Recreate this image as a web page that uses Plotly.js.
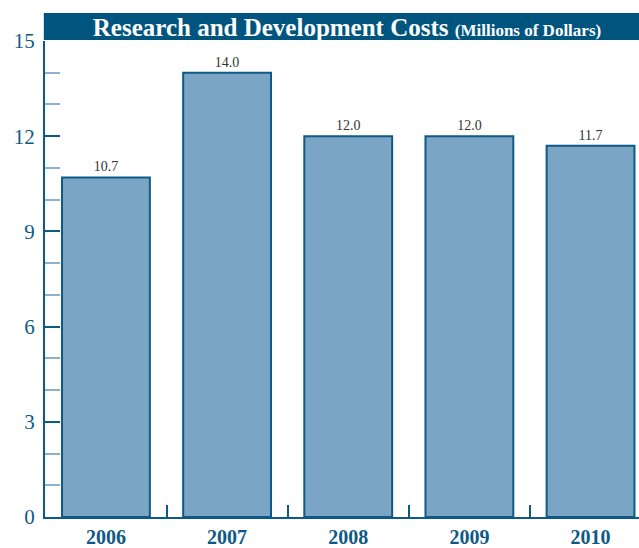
<!DOCTYPE html>
<html>
<head>
<meta charset="utf-8">
<script src="https://cdn.plot.ly/plotly-3.0.1.min.js"></script>
<style>
  html, body { margin: 0; padding: 0; background: #fff; }
  #plot { width: 639px; height: 548px; }
</style>
</head>
<body>
<div id="plot"></div>
<script>
// data
var years = ["2006", "2007", "2008", "2009", "2010"];
var costs = [10.7, 14.0, 12.0, 12.0, 11.7];
var yTicks = [0, 3, 6, 9, 12, 15];

var dark = "#0f5a85";
var serif = "Liberation Serif, Times New Roman, serif";

var bars = {
    type: 'bar',
    x: years,
    y: costs,
    marker: {
        color: '#7ba5c5',
        line: { color: dark, width: 2 }
    },
    text: costs.map(function (v) { return v.toFixed(1); }),
    textposition: 'outside',
    textfont: { family: serif, size: 14, color: '#333333' },
    cliponaxis: false,
    hoverinfo: 'none'
};

var layout = {
    width: 639,
    height: 548,
    margin: { l: 45, r: 0, t: 41, b: 31 },
    paper_bgcolor: '#ffffff',
    plot_bgcolor: '#ffffff',
    showlegend: false,
    bargap: 0.275,
    title: {
        text: "<b>Research and Development Costs <span style='font-size:17px'>(Millions of Dollars)</span></b>",
        font: { family: serif, size: 25, color: '#ffffff' },
        x: 0.543,
        xanchor: 'center',
        y: 0.951,
        yanchor: 'middle'
    },
    shapes: [{
        type: 'rect',
        xref: 'paper', yref: 'paper',
        x0: -0.002, x1: 1, y0: 1.002, y1: 1.059,
        fillcolor: '#00557f',
        line: { width: 0 },
        layer: 'below'
    }],
    xaxis: {
        type: 'category',
        range: [-0.503, 4.4],
        showline: true,
        linecolor: dark,
        linewidth: 2,
        ticks: 'inside',
        tickson: 'boundaries',
        ticklen: 12,
        tickwidth: 2,
        tickcolor: dark,
        showgrid: false,
        zeroline: false,
        tickfont: { family: serif, size: 20, color: dark, weight: 'bold' },
        ticklabelstandoff: 1
    },
    yaxis: {
        range: [0, 15],
        tickvals: yTicks,
        showline: true,
        linecolor: dark,
        linewidth: 2,
        ticks: 'inside',
        ticklen: 15,
        tickwidth: 2,
        tickcolor: dark,
        minor: {
            dtick: 1,
            ticks: 'inside',
            ticklen: 15,
            tickwidth: 2,
            tickcolor: '#8ab3cf',
            showgrid: false
        },
        showgrid: false,
        zeroline: false,
        tickfont: { family: serif, size: 21, color: dark },
        ticklabelstandoff: 4
    }
};

Plotly.newPlot('plot', [bars], layout, { displayModeBar: false, staticPlot: true });
</script>
</body>
</html>
